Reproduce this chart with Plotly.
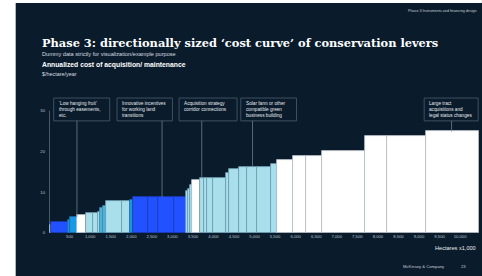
import numpy as np
import plotly.graph_objects as go

# ---------------- data ----------------
# width of each lever (hectares x1,000) and annualized cost ($/hectare/year)
widths = [60, 400, 60, 170, 200, 190, 120, 50, 60, 80, 390, 180, 80,
          360, 240, 410, 290, 40, 40, 70, 180, 100, 80, 150, 310, 80,
          220, 200, 260, 330, 150, 380, 330, 380, 1040, 540, 950, 1290]
costs = [2.0, 2.8, 3.2, 3.85, 4.35, 4.85, 4.85, 5.2, 6.2, 6.6, 7.9, 7.9, 8.1,
         8.8, 8.8, 8.8, 8.8, 10.2, 10.9, 11.8, 12.9, 13.4, 13.4, 13.4, 13.4, 14.8,
         15.7, 16.3, 16.3, 16.3, 16.9, 17.8, 18.9, 18.9, 20.0, 23.9, 23.9, 24.9]
kinds = ["light", "blue", "cyan", "cyan", "white", "light", "light", "light", "teal", "teal",
         "light", "light", "cyan", "blue", "blue", "blue", "blue", "light", "light", "light",
         "white", "light", "light", "light", "light", "light", "light", "light", "light",
         "light", "light", "white", "white", "white", "white", "white", "white", "white"]

x_tick_vals = list(range(500, 10001, 500))
x_tick_text = [f"{v:,}" for v in x_tick_vals]
y_tick_vals = [0, 10, 20, 30]

callouts = [
    ("‘Low hanging fruit’<br>through easements,<br>etc.", 114, 1477, 680, 3.9),
    ("Innovative incentives<br>for working land<br>transitions", 1655, 3003, 2750, 8.8),
    ("Acquisition strategy<br>corridor connections", 3164, 4575, 3716, 13.4),
    ("Solar farm or other<br>compatible green<br>business building", 4665, 6021, 4950, 16.3),
    ("Large tract<br>acquisitions and<br>legal status changes", 9126, 10440, 9793, 24.9),
]

# ---------------- styling ----------------
NAVY = "#0a1b2b"
fill_map = {"blue": "#2251ff", "cyan": "#1c98e2", "teal": "#4fb3d9",
            "light": "#a9deeb", "white": "#ffffff"}
line_map = {"blue": "#1a3cc0", "cyan": "#1670b0", "teal": "#3a8fb5",
            "light": "#6e9db2", "white": "#b8bec5"}

W, H = 482, 276
L, R, T, B = 49.3, 2.9, 96, 43
XMAX = 10460
YMAX = 33.6
PW = W - L - R
PH = H - T - B


def fx(px):
    return (px - L) / PW


def fy(py):
    return (H - B - py) / PH


edges = np.concatenate([[0], np.cumsum(widths)])
centers = (edges[:-1] + edges[1:]) / 2

fig = go.Figure()
fig.add_trace(go.Bar(
    x=centers, y=costs, width=widths,
    marker=dict(color=[fill_map[k] for k in kinds],
                line=dict(color=[line_map[k] for k in kinds], width=0.8)),
    hoverinfo="skip", showlegend=False,
))

shapes = []
annotations = []
FONT = "Liberation Sans"

# white slide margin
shapes.append(dict(type="rect", xref="paper", yref="paper",
                   x0=fx(0), x1=fx(16), y0=fy(H), y1=fy(0),
                   fillcolor="white", line=dict(width=0), layer="above"))
shapes.append(dict(type="rect", xref="paper", yref="paper",
                   x0=fx(0), x1=fx(W), y0=fy(3), y1=fy(0),
                   fillcolor="white", line=dict(width=0), layer="above"))

# y axis line
shapes.append(dict(type="line", xref="x", yref="y", x0=0, x1=0, y0=0, y1=30,
                   line=dict(color="#8a97a4", width=1)))

# callouts
for text, x0, x1, xl, yl in callouts:
    shapes.append(dict(type="rect", xref="x", yref="y", x0=x0, x1=x1, y0=27.5, y1=33.1,
                       line=dict(color="#4d5e6e", width=0.8), fillcolor=NAVY))
    shapes.append(dict(type="line", xref="x", yref="y", x0=xl, x1=xl, y0=27.5, y1=yl,
                       line=dict(color="#6f7e8c", width=0.8)))
    annotations.append(dict(x=x0 + 70, y=32.8, xref="x", yref="y", text=text,
                            showarrow=False, xanchor="left", yanchor="top", align="left",
                            font=dict(family=FONT, size=4.7, color="#e6eaee")))

# texts
annotations += [
    dict(x=fx(40), y=fy(43), xref="paper", yref="paper",
         text="<b>Phase 3: directionally sized ‘cost curve’ of conservation levers</b>",
         showarrow=False, xanchor="left", yanchor="middle",
         font=dict(family="DejaVu Serif", size=11.4, color="white")),
    dict(x=fx(40), y=fy(53.5), xref="paper", yref="paper",
         text="Dummy data strictly for visualization/example purpose",
         showarrow=False, xanchor="left", yanchor="middle",
         font=dict(family=FONT, size=5.6, color="#d5dbe0")),
    dict(x=fx(40), y=fy(65.3), xref="paper", yref="paper",
         text="<b>Annualized cost of acquisition/ maintenance</b>",
         showarrow=False, xanchor="left", yanchor="middle",
         font=dict(family=FONT, size=6.8, color="#ffffff")),
    dict(x=fx(40), y=fy(74), xref="paper", yref="paper",
         text="$/hectare/year",
         showarrow=False, xanchor="left", yanchor="middle",
         font=dict(family=FONT, size=5.4, color="#d5dbe0")),
    dict(x=fx(479), y=fy(11), xref="paper", yref="paper",
         text="Phase 3 Instruments and financing design",
         showarrow=False, xanchor="right", yanchor="middle",
         font=dict(family=FONT, size=3.7, color="#c8ced4")),
    dict(x=fx(478), y=fy(248), xref="paper", yref="paper",
         text="Hectares x1,000",
         showarrow=False, xanchor="right", yanchor="middle",
         font=dict(family=FONT, size=5.6, color="#e6eaee")),
    dict(x=fx(447), y=fy(266.7), xref="paper", yref="paper",
         text="McKinsey &amp; Company",
         showarrow=False, xanchor="right", yanchor="middle",
         font=dict(family=FONT, size=4.2, color="#c8ced4")),
    dict(x=fx(468), y=fy(266.7), xref="paper", yref="paper",
         text="23",
         showarrow=False, xanchor="right", yanchor="middle",
         font=dict(family=FONT, size=4.2, color="#c8ced4")),
]

fig.update_layout(
    width=W, height=H,
    margin=dict(l=L, r=R, t=T, b=B, pad=0),
    paper_bgcolor=NAVY, plot_bgcolor=NAVY,
    shapes=shapes, annotations=annotations,
    bargap=0,
    xaxis=dict(range=[0, XMAX], tickvals=x_tick_vals, ticktext=x_tick_text,
               showgrid=False, zeroline=False, showline=False, ticks="",
               tickfont=dict(family=FONT, size=4.2, color="#b9c2cb"), fixedrange=True),
    yaxis=dict(range=[0, YMAX], tickvals=y_tick_vals, showgrid=False, zeroline=False,
               showline=False, ticks="", ticklabelstandoff=3,
               tickfont=dict(family=FONT, size=4.2, color="#b9c2cb"), fixedrange=True),
)

fig.write_html("out.html", config={"displayModeBar": False},
               post_script="document.body.style.margin='0';document.body.style.overflow='hidden';")
